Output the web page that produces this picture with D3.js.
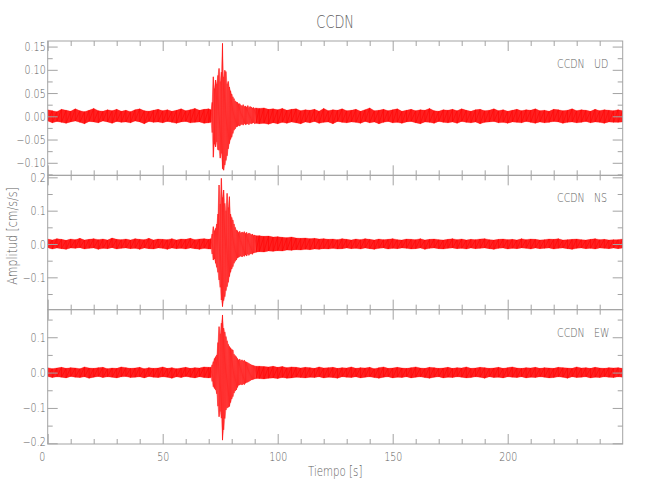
<!DOCTYPE html>
<html><head><meta charset="utf-8">
<script src="https://cdn.jsdelivr.net/npm/d3@7"></script>
<style>
body{margin:0;background:#fff}
text{font-family:"DejaVu Sans","Liberation Sans",sans-serif;font-weight:200;fill:#5e5e5e}
</style></head><body>
<svg id="c" width="650" height="500"></svg>
<script>
// ---------- data ----------
const title = "CCDN";
const station = "CCDN";
const components = ["UD", "NS", "EW"];
const xLabel = "Tiempo [s]";
const yLabel = "Amplitud [cm/s/s]";
const xDomain = [0, 250];
const xMajor = [0, 50, 100, 150, 200];
const xMajorLabels = ["0", "50", "100", "150", "200"];
const xMinor = [10,20,30,40,60,70,80,90,110,120,130,140,160,170,180,190,210,220,230,240];

// sample times (s): coarse before/after the burst, fine during the burst
const timesPre = [0,2,4,6,8,10,12,14,16,18,20,22,24,26,28,30,32,34,36,38,40,42,44,46,48,50,52,54,56,58,60,62,64,66,68,70];
const timesBurst = [71,71.5,72,72.5,73,73.5,74,74.5,75,75.5,76,76.5,77,77.5,78,78.5,79,79.5,80,80.5,81,81.5,82,82.5,83,83.5,84,84.5,85,85.5,86,86.5,87,87.5,88,88.5,89,89.5,90,90.5];
const timesPost = [92,94,96,98,100,102,104,106,108,110,112,114,116,118,120,122,124,126,128,130,132,134,136,138,140,142,144,146,148,150,152,154,156,158,160,162,164,166,168,170,172,174,176,178,180,182,184,186,188,190,192,194,196,198,200,202,204,206,208,210,212,214,216,218,220,222,224,226,228,230,232,234,236,238,240,242,244,246,248,250];

// UD: upper / lower envelope of the trace at each sample time
const udHi = [0.014,0.012,0.010,0.015,0.013,0.011,0.016,0.012,0.010,0.013,0.017,0.012,0.011,0.014,0.012,0.015,0.011,0.013,0.010,0.014,0.016,0.012,0.011,0.013,0.015,0.012,0.014,0.011,0.013,0.016,0.012,0.014,0.017,0.013,0.015,0.016,
 0.014,0.030,0.085,0.060,0.078,0.070,0.088,0.103,0.075,0.095,0.157,0.085,0.099,0.096,0.070,0.075,0.063,0.055,0.048,0.042,0.038,0.033,0.031,0.030,0.027,0.027,0.024,0.022,0.025,0.021,0.022,0.020,0.023,0.019,0.021,0.020,0.018,0.019,0.017,0.018,
 0.017,0.018,0.015,0.016,0.014,0.017,0.013,0.015,0.016,0.012,0.014,0.013,0.015,0.011,0.017,0.012,0.014,0.013,0.016,0.012,0.013,0.015,0.011,0.014,0.018,0.012,0.013,0.015,0.012,0.014,0.016,0.011,0.013,0.015,0.012,0.014,0.013,0.017,0.012,0.011,0.014,0.013,0.015,0.012,0.016,0.013,0.011,0.014,0.015,0.012,0.013,0.016,0.012,0.014,0.011,0.013,0.015,0.012,0.014,0.013,0.016,0.012,0.013,0.011,0.015,0.014,0.012,0.013,0.016,0.012,0.014,0.013,0.011,0.015,0.012,0.014,0.013,0.012,0.014,0.012];
const udLo = [-0.010,-0.014,-0.011,-0.013,-0.015,-0.012,-0.010,-0.013,-0.016,-0.011,-0.012,-0.014,-0.010,-0.012,-0.015,-0.011,-0.013,-0.012,-0.014,-0.010,-0.012,-0.016,-0.011,-0.013,-0.012,-0.014,-0.011,-0.013,-0.015,-0.012,-0.011,-0.014,-0.013,-0.012,-0.015,-0.014,
 -0.013,-0.035,-0.088,-0.060,-0.066,-0.055,-0.072,-0.073,-0.090,-0.080,-0.113,-0.116,-0.105,-0.095,-0.085,-0.070,-0.059,-0.050,-0.045,-0.037,-0.030,-0.027,-0.023,-0.022,-0.020,-0.021,-0.018,-0.017,-0.019,-0.016,-0.018,-0.017,-0.016,-0.018,-0.015,-0.016,-0.015,-0.014,-0.016,-0.015,
 -0.016,-0.015,-0.017,-0.014,-0.016,-0.013,-0.015,-0.012,-0.014,-0.016,-0.012,-0.014,-0.011,-0.015,-0.013,-0.012,-0.016,-0.011,-0.013,-0.014,-0.012,-0.013,-0.015,-0.011,-0.014,-0.012,-0.016,-0.013,-0.011,-0.014,-0.013,-0.015,-0.012,-0.011,-0.014,-0.016,-0.012,-0.013,-0.015,-0.011,-0.013,-0.014,-0.012,-0.015,-0.011,-0.013,-0.014,-0.012,-0.016,-0.013,-0.012,-0.011,-0.014,-0.013,-0.015,-0.012,-0.013,-0.014,-0.011,-0.013,-0.015,-0.012,-0.014,-0.013,-0.011,-0.012,-0.015,-0.013,-0.012,-0.014,-0.013,-0.011,-0.014,-0.012,-0.013,-0.015,-0.012,-0.013,-0.013,-0.012];

// NS
const nsHi = [0.015,0.012,0.016,0.014,0.011,0.015,0.013,0.017,0.012,0.014,0.016,0.013,0.015,0.012,0.018,0.014,0.013,0.015,0.012,0.016,0.014,0.013,0.017,0.012,0.015,0.014,0.013,0.016,0.012,0.015,0.014,0.017,0.013,0.015,0.016,0.014,
 0.016,0.030,0.052,0.040,0.047,0.060,0.090,0.177,0.120,0.197,0.140,0.162,0.122,0.100,0.152,0.110,0.142,0.090,0.080,0.072,0.060,0.050,0.042,0.040,0.035,0.038,0.033,0.036,0.034,0.037,0.032,0.035,0.030,0.033,0.031,0.028,0.030,0.026,0.027,0.025,
 0.025,0.023,0.024,0.021,0.022,0.020,0.019,0.021,0.018,0.017,0.018,0.016,0.017,0.015,0.016,0.014,0.015,0.013,0.016,0.014,0.012,0.015,0.013,0.016,0.014,0.012,0.015,0.013,0.014,0.016,0.013,0.012,0.015,0.014,0.013,0.016,0.012,0.014,0.015,0.013,0.012,0.014,0.016,0.013,0.015,0.012,0.014,0.013,0.015,0.016,0.013,0.012,0.014,0.015,0.013,0.014,0.012,0.016,0.013,0.015,0.014,0.012,0.013,0.015,0.014,0.016,0.012,0.013,0.014,0.015,0.013,0.012,0.014,0.016,0.013,0.014,0.012,0.013,0.013,0.015];
const nsLo = [-0.011,-0.015,-0.012,-0.014,-0.016,-0.012,-0.013,-0.011,-0.015,-0.013,-0.012,-0.016,-0.013,-0.014,-0.011,-0.015,-0.013,-0.012,-0.014,-0.013,-0.016,-0.012,-0.014,-0.015,-0.012,-0.013,-0.016,-0.012,-0.014,-0.013,-0.015,-0.012,-0.014,-0.016,-0.013,-0.015,
 -0.015,-0.030,-0.048,-0.045,-0.058,-0.070,-0.085,-0.108,-0.130,-0.168,-0.188,-0.170,-0.158,-0.140,-0.128,-0.115,-0.098,-0.085,-0.075,-0.068,-0.058,-0.052,-0.048,-0.042,-0.040,-0.038,-0.036,-0.039,-0.035,-0.037,-0.033,-0.036,-0.031,-0.034,-0.030,-0.029,-0.031,-0.027,-0.026,-0.025,
 -0.023,-0.024,-0.021,-0.022,-0.020,-0.021,-0.018,-0.019,-0.017,-0.018,-0.016,-0.017,-0.015,-0.016,-0.014,-0.015,-0.013,-0.015,-0.014,-0.012,-0.014,-0.013,-0.015,-0.012,-0.014,-0.016,-0.013,-0.012,-0.015,-0.013,-0.014,-0.012,-0.013,-0.015,-0.014,-0.012,-0.016,-0.013,-0.012,-0.014,-0.015,-0.013,-0.012,-0.014,-0.013,-0.015,-0.012,-0.014,-0.013,-0.012,-0.014,-0.016,-0.013,-0.012,-0.015,-0.013,-0.014,-0.012,-0.013,-0.015,-0.012,-0.014,-0.013,-0.012,-0.015,-0.013,-0.012,-0.014,-0.016,-0.013,-0.012,-0.014,-0.013,-0.015,-0.012,-0.013,-0.014,-0.012,-0.014,-0.012];

// EW
const ewHi = [0.014,0.011,0.013,0.015,0.012,0.014,0.013,0.011,0.016,0.013,0.012,0.014,0.015,0.011,0.013,0.012,0.016,0.014,0.012,0.013,0.015,0.011,0.014,0.012,0.013,0.016,0.012,0.014,0.011,0.013,0.015,0.012,0.014,0.013,0.016,0.015,
 0.015,0.022,0.031,0.040,0.045,0.050,0.085,0.130,0.110,0.140,0.163,0.126,0.115,0.102,0.090,0.080,0.074,0.070,0.066,0.064,0.052,0.048,0.045,0.040,0.036,0.038,0.034,0.036,0.033,0.035,0.031,0.030,0.028,0.026,0.024,0.022,0.021,0.020,0.019,0.018,
 0.018,0.017,0.016,0.018,0.015,0.017,0.014,0.016,0.015,0.013,0.015,0.014,0.012,0.016,0.013,0.014,0.015,0.012,0.014,0.013,0.016,0.012,0.014,0.013,0.015,0.011,0.014,0.016,0.012,0.013,0.015,0.013,0.012,0.014,0.016,0.013,0.012,0.015,0.014,0.012,0.013,0.015,0.012,0.014,0.013,0.016,0.012,0.013,0.015,0.014,0.012,0.013,0.015,0.012,0.014,0.016,0.013,0.012,0.014,0.013,0.015,0.012,0.014,0.013,0.012,0.015,0.014,0.013,0.012,0.016,0.013,0.014,0.012,0.015,0.013,0.012,0.014,0.013,0.014,0.012];
const ewLo = [-0.011,-0.014,-0.012,-0.013,-0.015,-0.011,-0.013,-0.014,-0.012,-0.016,-0.013,-0.011,-0.014,-0.012,-0.013,-0.015,-0.012,-0.011,-0.014,-0.013,-0.012,-0.015,-0.011,-0.013,-0.014,-0.012,-0.013,-0.016,-0.012,-0.014,-0.011,-0.013,-0.015,-0.012,-0.014,-0.015,
 -0.014,-0.025,-0.040,-0.045,-0.049,-0.060,-0.095,-0.125,-0.110,-0.129,-0.191,-0.162,-0.130,-0.106,-0.100,-0.098,-0.096,-0.085,-0.075,-0.068,-0.058,-0.052,-0.049,-0.042,-0.036,-0.035,-0.033,-0.035,-0.032,-0.034,-0.030,-0.028,-0.027,-0.025,-0.023,-0.021,-0.020,-0.019,-0.018,-0.017,
 -0.017,-0.018,-0.016,-0.015,-0.017,-0.014,-0.016,-0.015,-0.013,-0.014,-0.015,-0.013,-0.014,-0.012,-0.015,-0.013,-0.014,-0.016,-0.012,-0.013,-0.014,-0.012,-0.015,-0.013,-0.012,-0.014,-0.016,-0.013,-0.012,-0.015,-0.013,-0.014,-0.012,-0.015,-0.013,-0.012,-0.014,-0.016,-0.013,-0.012,-0.015,-0.013,-0.014,-0.012,-0.013,-0.015,-0.014,-0.012,-0.013,-0.016,-0.012,-0.014,-0.013,-0.015,-0.012,-0.013,-0.014,-0.012,-0.015,-0.013,-0.014,-0.012,-0.013,-0.015,-0.014,-0.012,-0.013,-0.016,-0.012,-0.014,-0.013,-0.012,-0.015,-0.013,-0.014,-0.012,-0.013,-0.014,-0.012,-0.013];

// y ranges and ticks per component
const udRange = [-0.127, 0.162];
const nsRange = [-0.197, 0.206];
const ewRange = [-0.202, 0.178];
const udTicks = [-0.10, -0.05, 0, 0.05, 0.10, 0.15];
const udTickLabels = ["\u22120.10", "\u22120.05", "0.00", "0.05", "0.10", "0.15"];
const udMinor = [-0.125, -0.075, -0.025, 0.025, 0.075, 0.125];
const nsTicks = [-0.1, 0, 0.1, 0.2];
const nsTickLabels = ["\u22120.1", "0.0", "0.1", "0.2"];
const nsMinor = [-0.15, -0.05, 0.05, 0.15];
const ewTicks = [-0.2, -0.1, 0, 0.1];
const ewTickLabels = ["\u22120.2", "\u22120.1", "0.0", "0.1"];
const ewMinor = [-0.15, -0.05, 0.05, 0.15];

// ---------- drawing ----------
const times = timesPre.concat(timesBurst, timesPost);
const burstStart = timesBurst[0], burstEnd = timesBurst[timesBurst.length - 1];
const svg = d3.select("#c");
const mLeft = 47.7, mRight = 622.7, mTop = 41, mBottom = 444;
const panelH = (mBottom - mTop) / 3;
const axisCol = "#a3a3a3";
const textCol = "#5e5e5e";
const narrow = 0.76; // horizontal squeeze for the narrow plotter font
const x = d3.scaleLinear().domain(xDomain).range([mLeft, mRight]);

const panels = [
  {comp: components[0], hi: udHi, lo: udLo, range: udRange, ticks: udTicks, labels: udTickLabels, minor: udMinor},
  {comp: components[1], hi: nsHi, lo: nsLo, range: nsRange, ticks: nsTicks, labels: nsTickLabels, minor: nsMinor},
  {comp: components[2], hi: ewHi, lo: ewLo, range: ewRange, ticks: ewTicks, labels: ewTickLabels, minor: ewMinor}
];

function styleAxis(g){
  g.select(".domain").remove();
  g.selectAll(".tick line").attr("stroke", axisCol).attr("stroke-width", 1);
  g.selectAll(".tick text").attr("fill", textCol).style("font-size", "12.5px");
}

panels.forEach((p, k) => {
  const y0 = mTop + k * panelH, y1 = y0 + panelH;
  const y = d3.scaleLinear().domain(p.range).range([y1, y0]);
  const g = svg.append("g");
  const clipId = "clip" + k;
  svg.append("clipPath").attr("id", clipId).append("rect")
    .attr("x", mLeft).attr("y", y0).attr("width", mRight - mLeft).attr("height", panelH);

  const pts = times.map((t, i) => ({t, hi: p.hi[i], lo: p.lo[i]}));
  const area = d3.area().x(d => x(d.t)).y0(d => y(d.lo)).y1(d => y(d.hi));
  const tr = g.append("g").attr("clip-path", `url(#${clipId})`);
  tr.append("path").attr("d", area(pts))
    .attr("fill", "#ff0000").attr("fill-opacity", 0.38)
    .attr("stroke", "#ff0000").attr("stroke-width", 0.5).attr("stroke-opacity", 0.5);
  [pts.filter(d => d.t <= burstStart), pts.filter(d => d.t >= burstEnd)].forEach(seg => {
    tr.append("path").attr("d", area(seg)).attr("fill", "#ff0000").attr("fill-opacity", 0.8);
  });
  const zig = [];
  pts.forEach(d => { zig.push([d.t, d.hi]); zig.push([d.t, d.lo]); });
  tr.append("path")
    .attr("d", d3.line().x(d => x(d[0])).y(d => y(d[1]))(zig))
    .attr("fill", "none").attr("stroke", "#ff0000").attr("stroke-width", 0.55);

  // frame
  g.append("rect").attr("x", mLeft).attr("y", y0).attr("width", mRight - mLeft).attr("height", panelH)
    .attr("fill", "none").attr("stroke", axisCol).attr("stroke-width", 1);

  // x ticks (top and bottom of each panel, pointing inward)
  g.append("g").attr("transform", `translate(0,${y1})`)
    .call(d3.axisBottom(x).tickValues(xMajor).tickSize(-10).tickFormat("")).call(styleAxis);
  g.append("g").attr("transform", `translate(0,${y1})`)
    .call(d3.axisBottom(x).tickValues(xMinor).tickSize(-5).tickFormat("")).call(styleAxis);
  g.append("g").attr("transform", `translate(0,${y0})`)
    .call(d3.axisTop(x).tickValues(xMajor).tickSize(-10).tickFormat("")).call(styleAxis);
  g.append("g").attr("transform", `translate(0,${y0})`)
    .call(d3.axisTop(x).tickValues(xMinor).tickSize(-5).tickFormat("")).call(styleAxis);

  // y ticks
  const ly = g.append("g").attr("transform", `translate(${mLeft},0)`)
    .call(d3.axisLeft(y).tickValues(p.ticks).tickSize(-10).tickPadding(2).tickFormat((d, i) => p.labels[i])).call(styleAxis);
  if (k === 2) ly.selectAll(".tick text").filter(d => d === -0.2).attr("y", -2);
  g.append("g").attr("transform", `translate(${mLeft},0)`)
    .call(d3.axisLeft(y).tickValues(p.minor).tickSize(-5).tickFormat("")).call(styleAxis);
  g.append("g").attr("transform", `translate(${mRight},0)`)
    .call(d3.axisRight(y).tickValues(p.ticks).tickSize(-10).tickFormat("")).call(styleAxis);
  g.append("g").attr("transform", `translate(${mRight},0)`)
    .call(d3.axisRight(y).tickValues(p.minor).tickSize(-5).tickFormat("")).call(styleAxis);

  // component label
  g.append("text").attr("x", 557).attr("y", y0 + 27).style("font-size", "12.5px").text(station);
  g.append("text").attr("x", 594).attr("y", y0 + 27).style("font-size", "12.5px").text(p.comp);

  if (k === 2) {
    const ax = g.append("g").attr("transform", `translate(0,${y1})`)
      .call(d3.axisBottom(x).tickValues(xMajor).tickSize(0).tickPadding(8).tickFormat((d, i) => xMajorLabels[i]))
      .call(styleAxis);
    ax.selectAll(".tick text").filter(d => d === 0).attr("dx", -6);
  }
});

svg.append("text").attr("x", (mLeft + mRight) / 2).attr("y", 28).attr("text-anchor", "middle")
  .style("font-size", "17px").text(title);
svg.append("text").attr("x", (mLeft + mRight) / 2).attr("y", 476).attr("text-anchor", "middle")
  .style("font-size", "13.5px").text(xLabel);
svg.append("text").attr("transform", "translate(17,236) rotate(-90)").attr("text-anchor", "middle")
  .style("font-size", "14.5px").text(yLabel);

// squeeze all texts horizontally to mimic the narrow plotter font
svg.selectAll("text").each(function(){
  const w = this.getComputedTextLength();
  if (w > 0) d3.select(this).attr("textLength", w * narrow).attr("lengthAdjust", "spacingAndGlyphs");
});
</script></body></html>
